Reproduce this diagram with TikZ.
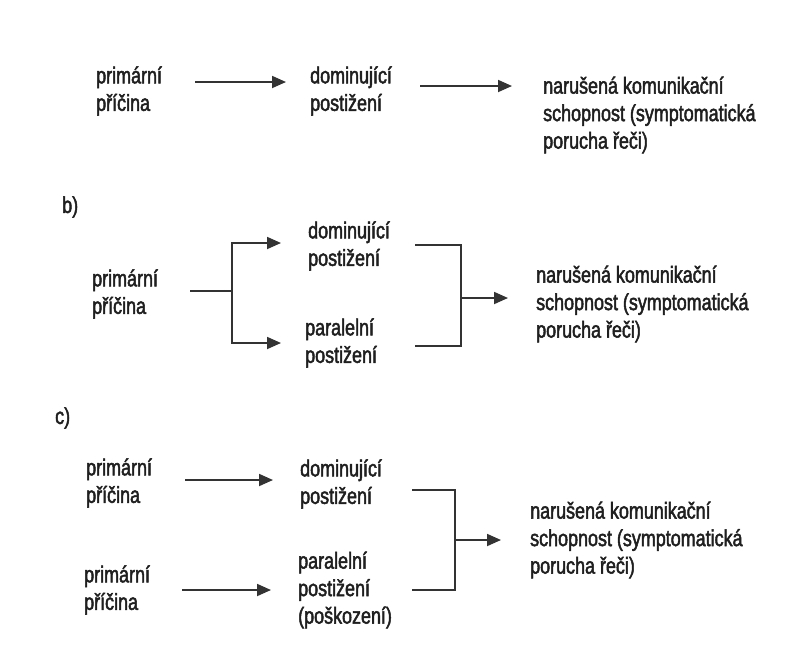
\documentclass[tikz,border=0pt]{standalone}
\usepackage{fontspec}
\setmainfont[FakeStretch=0.78,FakeBold=2]{Liberation Sans}
\usetikzlibrary{arrows.meta}
\begin{document}
\begin{tikzpicture}[x=1pt,y=-1pt,
  txt/.style={anchor=west, align=left, inner sep=0pt, font=\fontsize{23}{27.5}\selectfont, text=black!88},
  arr/.style={-{Triangle[length=14pt,width=12pt]}, line width=1.8pt, draw=black!80},
  ln/.style={line width=1.8pt, draw=black!80}]
\fill[white] (0,0) rectangle (795,654);
\useasboundingbox (0,0) rectangle (795,654);
% ---- a)
\node[txt] (a1) at (96,91) {primární\\příčina};
\node[txt] (a2) at (310,91) {dominující\\postižení};
\node[txt] (a3) at (543,115) {narušená komunikační\\schopnost (symptomatická\\porucha řeči)};
\coordinate (a1o) at (195,82);
\coordinate (a2i) at (286,82);
\coordinate (a2o) at (420,86);
\coordinate (a3i) at (512,86);
\draw[arr] (a1o) -- (a2i);
\draw[arr] (a2o) -- (a3i);
% ---- b)
\node[txt] (blab) at (62,207) {b)};
\node[txt] (b1) at (92,294) {primární\\příčina};
\node[txt] (b2) at (308,246) {dominující\\postižení};
\node[txt] (b3) at (305,343) {paralelní\\postižení};
\node[txt] (b4) at (536,304) {narušená komunikační\\schopnost (symptomatická\\porucha řeči)};
\coordinate (b1o) at (190,291);
\coordinate (bj) at (232,291);
\coordinate (b2i) at (281,243);
\coordinate (b3i) at (281,343);
\coordinate (b2o) at (415,245);
\coordinate (b3o) at (415,346);
\coordinate (bk) at (461,298);
\coordinate (b4i) at (508,298);
\draw[ln] (b1o) -- (bj);
\draw[arr] (bj) |- (b2i);
\draw[arr] (bj) |- (b3i);
\draw[ln] (b2o) -| (bk) |- (b3o);
\draw[arr] (bk) -- (b4i);
% ---- c)
\node[txt] (clab) at (55,418) {c)};
\node[txt] (c1) at (86,483) {primární\\příčina};
\node[txt] (c2) at (300,484) {dominující\\postižení};
\node[txt] (c3) at (84,590) {primární\\příčina};
\node[txt] (c4) at (298,590) {paralelní\\postižení\\(poškození)};
\node[txt] (c5) at (530,540) {narušená komunikační\\schopnost (symptomatická\\porucha řeči)};
\coordinate (c1o) at (185,480);
\coordinate (c2i) at (273,480);
\coordinate (c3o) at (182,590);
\coordinate (c4i) at (271,590);
\coordinate (c2o) at (412,490);
\coordinate (c4o) at (412,590);
\coordinate (ck) at (455,540);
\coordinate (c5i) at (501,540);
\draw[arr] (c1o) -- (c2i);
\draw[arr] (c3o) -- (c4i);
\draw[ln] (c2o) -| (ck) |- (c4o);
\draw[arr] (ck) -- (c5i);
\end{tikzpicture}
\end{document}
